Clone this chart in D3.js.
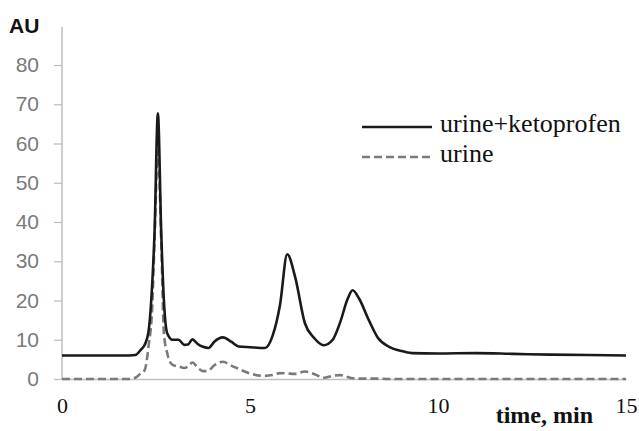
<!DOCTYPE html>
<html><head><meta charset="utf-8">
<script src="https://cdn.jsdelivr.net/npm/d3@7"></script>
<style>body{margin:0;background:#fff}svg{display:block}</style>
</head><body>
<svg id="c" width="639" height="431"></svg>
<script>
const times = [0,1.5,1.8,1.95,2.1,2.2,2.3,2.4,2.46,2.55,2.64,2.71,2.8,2.94,3.1,3.25,3.35,3.47,3.6,3.75,3.9,4.05,4.28,4.5,4.7,5.0,5.4,5.6,5.8,5.99,6.2,6.46,6.7,6.96,7.2,7.4,7.6,7.73,7.9,8.16,8.4,8.7,9.0,9.3,10,11,12,13,14,15];
const urineKetoprofen = [6,6,6,6.1,7.5,8.7,12,24.4,37,67.7,37,20,11.6,10,10,8.7,8.8,10.1,9,8.2,7.9,9.5,10.6,9.5,8.3,8.1,7.9,11,19,31.8,26,14.2,10.5,8.6,10,14.5,20.5,22.6,20.5,15,10.5,8.2,7.2,6.6,6.5,6.6,6.4,6.2,6.1,6.0];
const urine = [0,0,0,0.3,1.5,2.3,8.2,18.4,35,58,35,11.6,6.5,3.6,3.2,2.8,3.2,4.2,3.0,2.0,2.2,3.5,4.4,3.4,2.6,1.4,0.8,1.0,1.5,1.4,1.3,1.9,1.3,0.3,0.8,1.0,0.5,0.2,0.1,0.1,0.1,0,0,0,0,0,0,0,0,0];
const yTicks = [0,10,20,30,40,50,60,70,80];
const xTicks = [0,5,10,15];
const seriesNames = ["urine+ketoprofen","urine"];

const svg = d3.select("#c");
const x = d3.scaleLinear().domain([0,15]).range([62,626]);
const y = d3.scaleLinear().domain([0,80]).range([379,65]);

// y axis
const ya = svg.append("g").attr("transform","translate(62,0)")
  .call(d3.axisLeft(y).tickValues(yTicks).tickSize(8).tickPadding(15));
ya.select(".domain").remove();
ya.selectAll(".tick line").attr("stroke","#bfbfbf").attr("stroke-width",1.3);
ya.selectAll("text").attr("fill","#7a7a7a").style("font-family","Liberation Sans, Arial, sans-serif").style("font-size","21px");
svg.append("line").attr("x1",62).attr("x2",62).attr("y1",y(90)+1).attr("y2",y(0)).attr("stroke","#bfbfbf").attr("stroke-width",1.5);

// x axis
const xa = svg.append("g").attr("transform",`translate(0,${y(0)})`)
  .call(d3.axisBottom(x).tickValues(xTicks).tickSize(0).tickPadding(0));
xa.select(".domain").attr("stroke","#bfbfbf").attr("stroke-width",1.5);
xa.selectAll("text").attr("dy",null).attr("y",34).attr("fill","#111")
  .style("font-family","Liberation Serif, Times New Roman, serif").style("font-size","22px");

svg.append("text").attr("x",9).attr("y",33).text("AU")
  .style("font-family","Liberation Sans, Arial, sans-serif").style("font-weight","bold").style("font-size","21px").attr("fill","#111");
svg.append("text").attr("x",593).attr("y",423).attr("text-anchor","end").text("time, min")
  .style("font-family","Liberation Serif, Times New Roman, serif").style("font-weight","bold").style("font-size","24px").attr("fill","#111");

const line = d3.line().x((d,i)=>x(times[i])).y(d=>y(d)).curve(d3.curveMonotoneX);
svg.append("path").datum(urine).attr("d",line).attr("fill","none")
  .attr("stroke","#7a7a7a").attr("stroke-width",2.6).attr("stroke-dasharray","8,4");
svg.append("path").datum(urineKetoprofen).attr("d",line).attr("fill","none")
  .attr("stroke","#1a1a1a").attr("stroke-width",2.6);

// legend
const lg = svg.append("g");
const styles = [{c:"#1a1a1a",d:null},{c:"#7a7a7a",d:"8,4"}];
seriesNames.forEach((n,i)=>{
  const yy = 127 + i*30;
  lg.append("line").attr("x1",362).attr("x2",432).attr("y1",yy).attr("y2",yy)
    .attr("stroke",styles[i].c).attr("stroke-width",2.6).attr("stroke-dasharray",styles[i].d);
  lg.append("text").attr("x",440).attr("y",yy+5).text(n)
    .style("font-family","Liberation Serif, Times New Roman, serif").style("font-size","26px").attr("fill","#111");
});
</script>
</body></html>
